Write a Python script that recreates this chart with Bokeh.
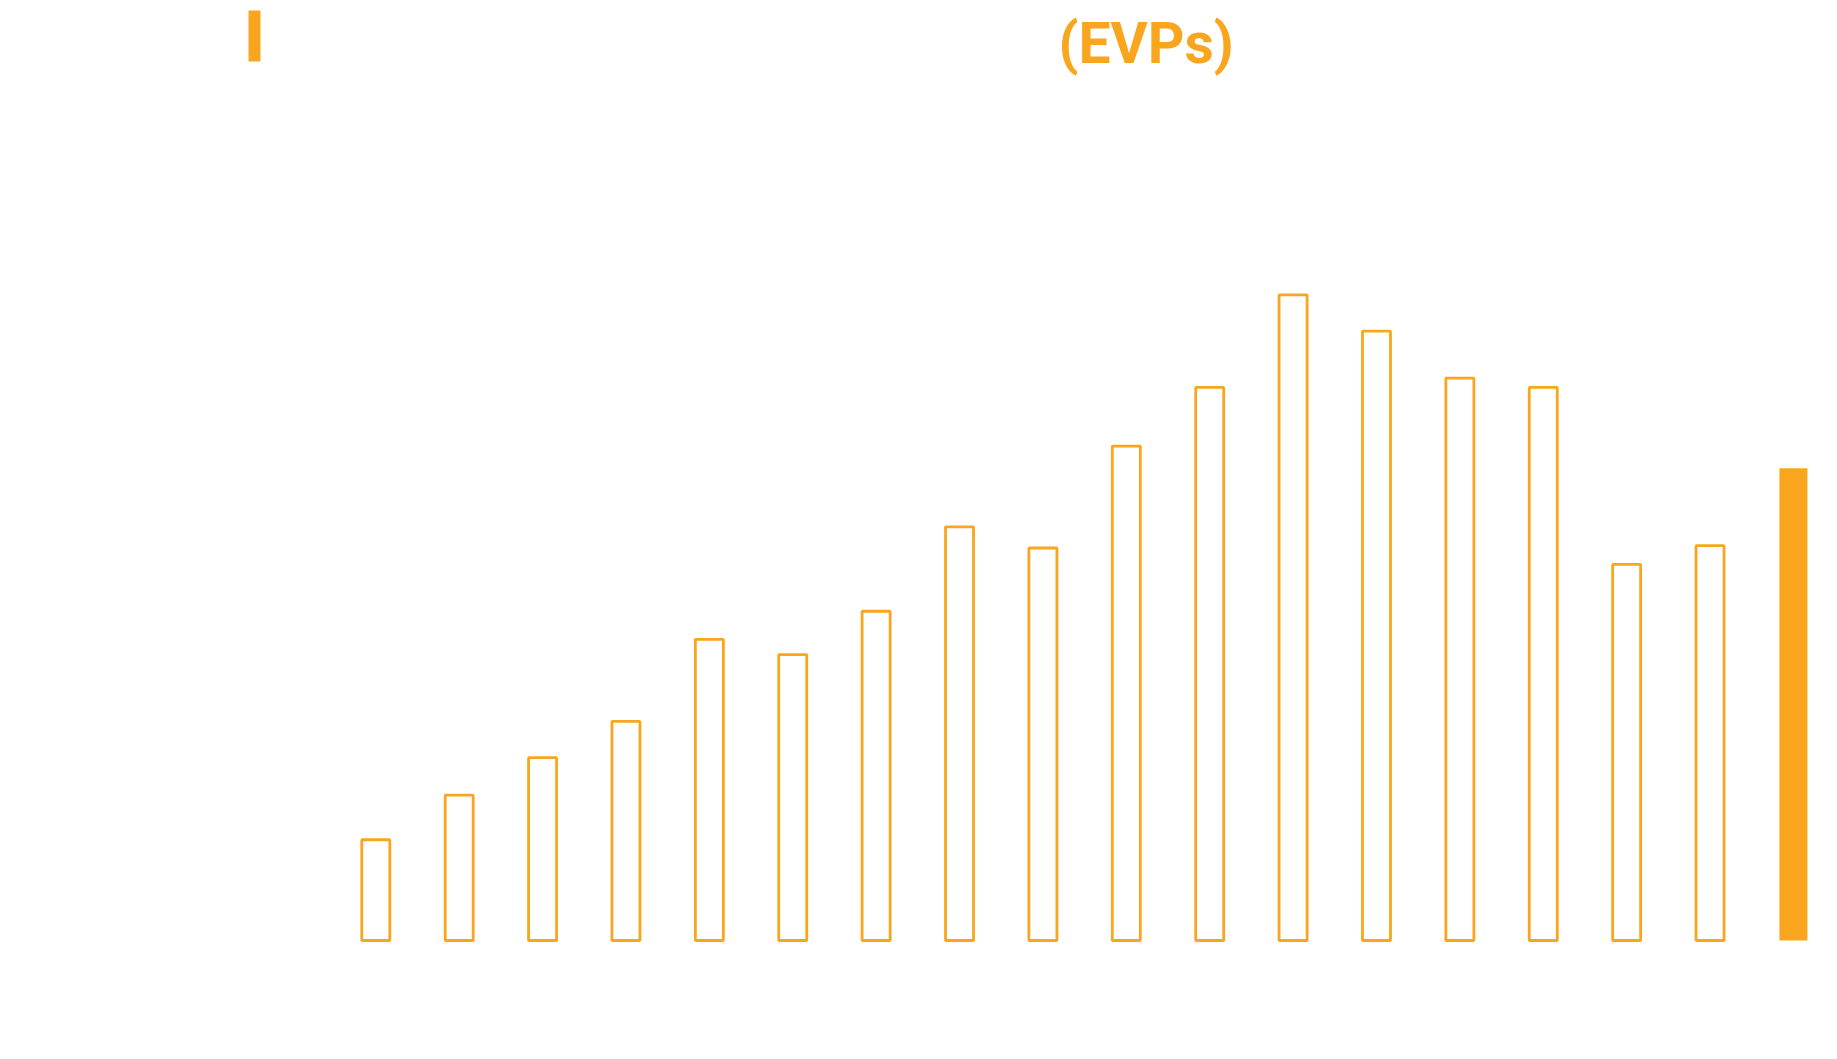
from bokeh.plotting import figure
from bokeh.models import Range1d
from bokeh.core.properties import value
from bokeh.embed import file_html
from bokeh.resources import INLINE

# ---- data (axis labels are not visible) ----
bar_values = [8.6, 12.4, 15.6, 18.7, 25.7, 24.4, 28.1, 35.3, 33.5,
              42.2, 47.2, 55.1, 52.0, 48.0, 47.2, 32.1, 33.7, 40.3]
bar_index = list(range(len(bar_values)))
highlighted = [False] * 17 + [True]
title_tag = "(EVPs)"

ORANGE = "#F9A61E"

# ---- layout ----
W, H = 1821, 1040
X0_PX = 375.3      # canvas x of first bar centre
PX_PER_X = 83.39   # pixels per bar slot
BASE_PX = 940.0    # canvas y of the zero line
PX_PER_Y = 11.717  # pixels per value unit


def sx(px):
    return (px - X0_PX) / PX_PER_X


def sy(py):
    return (BASE_PX - py) / PX_PER_Y


p = figure(width=W, height=H, output_backend="svg", toolbar_location=None,
           x_range=Range1d(sx(0), sx(W)), y_range=Range1d(sy(H), sy(0)),
           x_axis_location=None, y_axis_location=None,
           min_border=0, min_border_left=0, min_border_right=0,
           min_border_top=0, min_border_bottom=0)
p.outline_line_color = None
p.xgrid.visible = False
p.ygrid.visible = False
p.background_fill_color = "white"
p.border_fill_color = "white"

plain_x = [i for i, h in zip(bar_index, highlighted) if not h]
plain_v = [v for v, h in zip(bar_values, highlighted) if not h]
hi_x = [i for i, h in zip(bar_index, highlighted) if h]
hi_v = [v for v, h in zip(bar_values, highlighted) if h]

p.vbar(x=plain_x, top=plain_v, bottom=0, width=0.336,
       fill_color="white", line_color=ORANGE, line_width=2.8)
p.vbar(x=hi_x, top=hi_v, bottom=0, width=0.336,
       fill_color=ORANGE, line_color=None)

# title accent mark and tag
p.quad(left=[sx(248)], right=[sx(260)], top=[sy(10)], bottom=[sy(61)],
       fill_color=ORANGE, line_color=None)
p.text(x=[sx(1058)], y=[sy(43)], text=[title_tag],
       text_font=value("Roboto"), text_font_style="bold",
       text_font_size="57px", text_color=ORANGE,
       text_align="left", text_baseline="alphabetic")

open("out.html", "w").write(file_html(p, INLINE))
